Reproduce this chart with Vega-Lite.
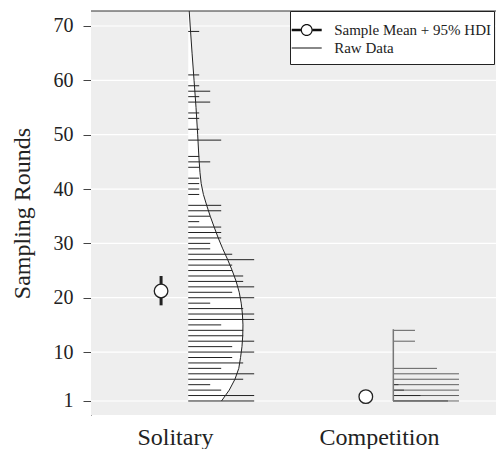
{
  "$schema": "https://vega.github.io/schema/vega-lite/v6.json",
  "background": "#ffffff",
  "padding": {"left": 10, "top": 10, "right": 0, "bottom": 0},
  "width": 405,
  "height": 404,
  "datasets": {
    "solitary_raw": [
      {"value": 1, "count": 6}, {"value": 2, "count": 6}, {"value": 3, "count": 3}, {"value": 4, "count": 2},
      {"value": 5, "count": 5}, {"value": 6, "count": 6}, {"value": 7, "count": 3}, {"value": 8, "count": 5},
      {"value": 9, "count": 4}, {"value": 10, "count": 6}, {"value": 11, "count": 4}, {"value": 12, "count": 6},
      {"value": 13, "count": 5}, {"value": 14, "count": 5}, {"value": 15, "count": 3}, {"value": 16, "count": 6},
      {"value": 17, "count": 6}, {"value": 18, "count": 5}, {"value": 19, "count": 2}, {"value": 20, "count": 6},
      {"value": 21, "count": 4}, {"value": 22, "count": 6}, {"value": 23, "count": 5}, {"value": 24, "count": 5},
      {"value": 25, "count": 4}, {"value": 26, "count": 4}, {"value": 27, "count": 6}, {"value": 28, "count": 4},
      {"value": 29, "count": 2}, {"value": 30, "count": 2}, {"value": 31, "count": 3}, {"value": 32, "count": 3},
      {"value": 33, "count": 3}, {"value": 34, "count": 1}, {"value": 35, "count": 2}, {"value": 36, "count": 3},
      {"value": 37, "count": 3}, {"value": 39, "count": 1}, {"value": 40, "count": 1}, {"value": 41, "count": 1},
      {"value": 42, "count": 1}, {"value": 44, "count": 1}, {"value": 45, "count": 2}, {"value": 46, "count": 1},
      {"value": 49, "count": 3}, {"value": 51, "count": 1}, {"value": 53, "count": 1}, {"value": 54, "count": 1},
      {"value": 56, "count": 2}, {"value": 57, "count": 1}, {"value": 58, "count": 2}, {"value": 59, "count": 1},
      {"value": 61, "count": 1}, {"value": 69, "count": 1}
    ],
    "solitary_density": [
      {"value": 1, "dens": 3.03}, {"value": 3, "dens": 3.73}, {"value": 5, "dens": 4.25}, {"value": 7, "dens": 4.6},
      {"value": 9, "dens": 4.76}, {"value": 11, "dens": 4.89}, {"value": 13, "dens": 4.96}, {"value": 15, "dens": 4.98},
      {"value": 17, "dens": 4.93}, {"value": 19, "dens": 4.82}, {"value": 21, "dens": 4.64}, {"value": 23, "dens": 4.36},
      {"value": 25, "dens": 4.0}, {"value": 27, "dens": 3.59}, {"value": 29, "dens": 3.14}, {"value": 31, "dens": 2.73},
      {"value": 33, "dens": 2.36}, {"value": 35, "dens": 2.0}, {"value": 37, "dens": 1.68}, {"value": 39, "dens": 1.38},
      {"value": 41, "dens": 1.18}, {"value": 43, "dens": 1.07}, {"value": 45, "dens": 1.0}, {"value": 47, "dens": 0.94},
      {"value": 50, "dens": 0.86}, {"value": 55, "dens": 0.71}, {"value": 60, "dens": 0.53}, {"value": 65, "dens": 0.35},
      {"value": 70, "dens": 0.18}, {"value": 74, "dens": 0.05}
    ],
    "competition_raw": [
      {"value": 1, "count": 6}, {"value": 1, "count": 5}, {"value": 2, "count": 6}, {"value": 2, "count": 2.5},
      {"value": 3, "count": 6}, {"value": 3, "count": 1}, {"value": 4, "count": 6}, {"value": 4, "count": 0.5},
      {"value": 5, "count": 6}, {"value": 6, "count": 6}, {"value": 7, "count": 4}, {"value": 12, "count": 2},
      {"value": 14, "count": 2}
    ],
    "competition_density": [
      {"value": 1, "dens": 0.03}, {"value": 14.2, "dens": 0.03}
    ],
    "summary": [
      {"group": "Solitary", "mean": 21.24, "lo": 18.6, "hi": 24.0},
      {"group": "Competition", "mean": 1.8, "lo": 1.6, "hi": 2.0}
    ],
    "legend_items": [
      {"series": "Sample Mean + 95% HDI"},
      {"series": "Raw Data"}
    ],
    "ticks": [
      {"tick": 1}, {"tick": 10}, {"tick": 20}, {"tick": 30}, {"tick": 40}, {"tick": 50}, {"tick": 60}, {"tick": 70}
    ],
    "frame": [{}]
  },
  "layer": [
    {
      "data": {"name": "frame"},
      "mark": {"type": "rect", "color": "#eeeeee"},
      "encoding": {
        "y": {"datum": -1.58, "type": "quantitative", "scale": {"domain": [-1.58, 72.76], "nice": false, "zero": false},
          "axis": {"title": "Sampling Rounds", "values": [1, 10, 20, 30, 40, 50, 60, 70], "grid": false, "domainColor": "#444444", "tickColor": "#444444", "tickSize": 8, "labelFontSize": 20, "labelPadding": 10, "titleFontSize": 24, "titlePadding": 19}},
        "y2": {"datum": 72.76},
        "x": {"datum": -8.845, "type": "quantitative", "scale": {"domain": [-8.845, 28.0], "nice": false, "zero": false}, "axis": null},
        "x2": {"datum": 28.0}
      }
    },
    {
      "data": {"name": "ticks"},
      "mark": {"type": "rule", "color": "#ffffff", "strokeWidth": 1.2},
      "encoding": {
        "y": {"field": "tick", "type": "quantitative", "scale": {"domain": [-1.58, 72.76], "nice": false, "zero": false}}
      }
    },
    {
      "data": {"name": "solitary_density"},
      "mark": {"type": "area", "orient": "horizontal", "color": "#ffffff", "clip": true},
      "encoding": {
        "y": {"field": "value", "type": "quantitative", "scale": {"domain": [-1.58, 72.76], "nice": false, "zero": false}},
        "x": {"field": "dens", "type": "quantitative", "scale": {"domain": [-8.845, 28.0], "nice": false, "zero": false},
          "axis": {"orient": "bottom", "title": null, "values": [-1.21], "labelExpr": "'Solitary'", "ticks": false, "domain": false, "grid": false, "labelFontSize": 24, "labelPadding": 10, "labelFlush": false}},
        "x2": {"datum": 0}
      }
    },
    {
      "data": {"name": "solitary_raw"},
      "mark": {"type": "rule", "color": "#222222", "strokeWidth": 1},
      "encoding": {
        "y": {"field": "value", "type": "quantitative", "scale": {"domain": [-1.58, 72.76], "nice": false, "zero": false}},
        "x": {"field": "count", "type": "quantitative", "scale": {"domain": [-8.845, 28.0], "nice": false, "zero": false}, "axis": null},
        "x2": {"datum": 0}
      }
    },
    {
      "data": {"name": "solitary_density"},
      "mark": {"type": "line", "color": "#222222", "strokeWidth": 1, "clip": true},
      "encoding": {
        "y": {"field": "value", "type": "quantitative", "scale": {"domain": [-1.58, 72.76], "nice": false, "zero": false}},
        "x": {"field": "dens", "type": "quantitative", "scale": {"domain": [-8.845, 28.0], "nice": false, "zero": false}, "axis": null},
        "order": {"field": "value", "type": "quantitative"}
      }
    },
    {
      "data": {"name": "summary"},
      "transform": [{"filter": "datum.group === 'Solitary'"}],
      "mark": {"type": "rule", "color": "#222222", "strokeWidth": 3},
      "encoding": {
        "y": {"field": "lo", "type": "quantitative", "scale": {"domain": [-1.58, 72.76], "nice": false, "zero": false}},
        "y2": {"field": "hi"},
        "x": {"datum": -2.47, "type": "quantitative", "scale": {"domain": [-8.845, 28.0], "nice": false, "zero": false}, "axis": null}
      }
    },
    {
      "data": {"name": "summary"},
      "transform": [{"filter": "datum.group === 'Solitary'"}],
      "mark": {"type": "point", "shape": "circle", "size": 185, "filled": true, "fill": "#ffffff", "stroke": "#222222", "strokeWidth": 1.3, "opacity": 1},
      "encoding": {
        "y": {"field": "mean", "type": "quantitative", "scale": {"domain": [-1.58, 72.76], "nice": false, "zero": false}},
        "x": {"datum": -2.47, "type": "quantitative", "scale": {"domain": [-8.845, 28.0], "nice": false, "zero": false}, "axis": null}
      }
    },
    {
      "data": {"name": "frame"},
      "mark": {"type": "rule", "color": "#333333", "strokeWidth": 1},
      "encoding": {
        "y": {"datum": 72.76, "type": "quantitative", "scale": {"domain": [-1.58, 72.76], "nice": false, "zero": false}}
      }
    },
    {
      "data": {"name": "competition_raw"},
      "mark": {"type": "rule", "color": "#000000", "strokeWidth": 1, "opacity": 0.6},
      "encoding": {
        "y": {"field": "value", "type": "quantitative", "scale": {"domain": [-1.58, 72.76], "nice": false, "zero": false}},
        "x": {"field": "count", "type": "quantitative", "scale": {"domain": [-27.45, 9.364], "nice": false, "zero": false},
          "axis": {"orient": "bottom", "title": null, "values": [-1.27], "labelExpr": "'Competition'", "ticks": false, "domain": false, "grid": false, "labelFontSize": 24, "labelPadding": 10, "labelFlush": false}},
        "x2": {"datum": 0}
      }
    },
    {
      "data": {"name": "competition_density"},
      "mark": {"type": "line", "color": "#777777", "strokeWidth": 1.5},
      "encoding": {
        "y": {"field": "value", "type": "quantitative", "scale": {"domain": [-1.58, 72.76], "nice": false, "zero": false}},
        "x": {"field": "dens", "type": "quantitative", "scale": {"domain": [-27.45, 9.364], "nice": false, "zero": false}, "axis": null},
        "order": {"field": "value", "type": "quantitative"}
      }
    },
    {
      "data": {"name": "summary"},
      "transform": [{"filter": "datum.group === 'Competition'"}],
      "mark": {"type": "rule", "color": "#222222", "strokeWidth": 3},
      "encoding": {
        "y": {"field": "lo", "type": "quantitative", "scale": {"domain": [-1.58, 72.76], "nice": false, "zero": false}},
        "y2": {"field": "hi"},
        "x": {"datum": -2.47, "type": "quantitative", "scale": {"domain": [-27.45, 9.364], "nice": false, "zero": false}, "axis": null}
      }
    },
    {
      "data": {"name": "summary"},
      "transform": [{"filter": "datum.group === 'Competition'"}],
      "mark": {"type": "point", "shape": "circle", "size": 185, "filled": true, "fill": "#ffffff", "stroke": "#222222", "strokeWidth": 1.3, "opacity": 1},
      "encoding": {
        "y": {"field": "mean", "type": "quantitative", "scale": {"domain": [-1.58, 72.76], "nice": false, "zero": false}},
        "x": {"datum": -2.47, "type": "quantitative", "scale": {"domain": [-27.45, 9.364], "nice": false, "zero": false}, "axis": null}
      }
    },
    {
      "data": {"name": "legend_items"},
      "mark": {"type": "point", "filled": true, "color": "#111111", "opacity": 0},
      "encoding": {
        "y": {"datum": 60, "type": "quantitative", "scale": {"domain": [-1.58, 72.76], "nice": false, "zero": false}},
        "x": {"datum": 0, "type": "quantitative", "scale": {"domain": [-27.45, 9.364], "nice": false, "zero": false}, "axis": null},
        "shape": {
          "field": "series", "type": "nominal",
          "scale": {
            "domain": ["Sample Mean + 95% HDI", "Raw Data"],
            "range": [
              "M-3,-0.24H-1.2V0.24H-3ZM1.2,-0.24H3V0.24H1.2ZM1.2,0A1.2,1.2,0,1,0,-1.2,0A1.2,1.2,0,1,0,1.2,0ZM0.96,0A0.96,0.96,0,1,1,-0.96,0A0.96,0.96,0,1,1,0.96,0Z",
              "M-3,-0.1H3V0.1H-3ZM0,2.6"
            ]
          },
          "legend": {
            "title": ".",
            "titleOpacity": 0,
            "titleFontSize": 6,
            "titlePadding": 2.5,
            "orient": "none",
            "legendX": 199,
            "legendY": 0,
            "padding": 3,
            "rowPadding": 2,
            "symbolSize": 100,
            "symbolStrokeWidth": 0,
            "symbolFillColor": "#111111",
            "symbolOpacity": 1,
            "symbolOffset": 6.2,
            "labelOffset": 20,
            "labelFont": "Liberation Serif",
            "labelFontSize": 15,
            "labelColor": "#222222",
            "labelLimit": 400,
            "strokeColor": "#222222",
            "fillColor": "#ffffff",
            "cornerRadius": 0
          }
        }
      }
    }
  ],
  "resolve": {"scale": {"x": "independent"}, "axis": {"x": "independent"}},
  "config": {
    "view": {"stroke": null},
    "axis": {"labelFont": "Liberation Serif", "titleFont": "Liberation Serif", "titleFontWeight": "normal", "labelColor": "#222222", "titleColor": "#222222"}
  }
}
